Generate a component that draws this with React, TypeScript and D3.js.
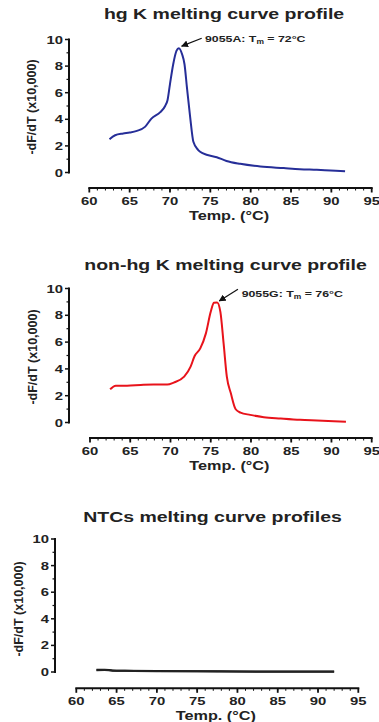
import React, { useEffect, useRef } from 'react'
import * as d3 from 'd3'

// melting curves (temp °C, -dF/dT x10,000)
const hgTemp = [62.5, 63.2, 64.2, 65.0, 65.9, 66.9, 67.7, 68.8, 69.4, 69.7, 70.0, 70.4, 70.8, 71.1, 71.5, 71.8, 72.1, 72.5, 72.9, 73.5, 74.1, 75.8, 77.0, 78.7, 81.2, 84.1, 86.1, 88.2, 89.9, 91.7]
const hgValue = [2.5, 2.8, 2.93, 3.0, 3.13, 3.43, 4.05, 4.54, 5.0, 5.45, 6.65, 8.14, 9.14, 9.35, 8.89, 8.14, 6.4, 4.17, 2.31, 1.69, 1.44, 1.15, 0.87, 0.65, 0.45, 0.33, 0.25, 0.2, 0.15, 0.1]

const nonHgTemp = [62.5, 63.2, 64.6, 66.3, 67.9, 69.6, 70.4, 71.7, 72.5, 73.0, 73.7, 74.4, 75.0, 75.4, 75.8, 76.2, 76.6, 77.0, 77.5, 78.1, 78.7, 79.9, 81.6, 83.7, 86.1, 88.2, 90.3, 91.8]
const nonHgValue = [2.48, 2.75, 2.75, 2.8, 2.83, 2.83, 2.98, 3.42, 4.17, 4.96, 5.53, 6.65, 8.26, 8.93, 8.96, 8.26, 5.9, 3.42, 2.18, 0.99, 0.74, 0.57, 0.4, 0.3, 0.2, 0.15, 0.1, 0.05]

const ntcTemp = [62.5, 63.5, 64.5, 66.0, 70.0, 75.0, 80.0, 85.0, 90.0, 92.0]
const ntcValueA = [0.17, 0.17, 0.12, 0.1, 0.08, 0.06, 0.04, 0.03, 0.03, 0.03]
const ntcValueB = [0.14, 0.15, 0.1, 0.09, 0.06, 0.05, 0.03, 0.02, 0.02, 0.02]

const xTicks = [60, 65, 70, 75, 80, 85, 90, 95]
const yTicks = [0, 2, 4, 6, 8, 10]
const titles = ['hg K melting curve profile', 'non-hg K melting curve profile', 'NTCs melting curve profiles']
const yTitle = '-dF/dT (x10,000)'
const xTitle = 'Temp. (°C)'

// annotations: label, value, arrow tail/tip and text anchor in data units
const notes = [
  { label: '9055A', tm: '72', tail: [73.93, 10.09], tip: [71.45, 9.5], text: [74.34, 10.1] },
  { label: '9055G', tm: '76', tail: [78.38, 9.94], tip: [76.06, 9.07], text: [78.84, 9.66] },
]

const FONT = '"Liberation Sans", Arial, Helvetica, sans-serif'
const SX = 1.3

const panels = [
  {
    title: titles[0], temps: hgTemp, series: [hgValue], colors: ['#262e98'], note: notes[0],
    l: 69, x0: 89.3, x1: 371.7, top: 39.5, bottom: 172.5, axisY: 188,
    titleX: 224, titleY: 19, yTitleX: 36, yTitleY: 107, xTitleY: 220
  },
  {
    title: titles[1], temps: nonHgTemp, series: [nonHgValue], colors: ['#e8131b'], note: notes[1],
    l: 69, x0: 90, x1: 371.7, top: 288.5, bottom: 422.5, axisY: 438,
    titleX: 225.5, titleY: 269.5, yTitleX: 36.5, yTitleY: 357, xTitleY: 469.5
  },
  {
    title: titles[2], temps: ntcTemp, series: [ntcValueA, ntcValueB], colors: ['#111', '#222'], note: null,
    l: 55, x0: 76.3, x1: 358.3, top: 539, bottom: 672, axisY: 688.3,
    titleX: 212.5, titleY: 521.5, yTitleX: 22.5, yTitleY: 609, xTitleY: 719.5
  },
]

export default function App() {
  const ref = useRef<SVGSVGElement | null>(null)

  useEffect(() => {
    const svg = d3.select(ref.current)
    svg.selectAll('*').remove()

    svg.append('defs').append('marker')
      .attr('id', 'arrowhead')
      .attr('viewBox', '0 0 10 10')
      .attr('refX', 9).attr('refY', 5)
      .attr('markerWidth', 7).attr('markerHeight', 7)
      .attr('markerUnits', 'userSpaceOnUse')
      .attr('orient', 'auto')
      .append('path').attr('d', 'M0,0 L10,5 L0,10 z').attr('fill', '#111')

    panels.forEach((p) => {
      const g = svg.append('g')
      const x = d3.scaleLinear().domain([60, 95]).range([p.x0, p.x1])
      const y = d3.scaleLinear().domain([0, 10]).range([p.bottom, p.top])

      // title
      g.append('text')
        .attr('transform', `translate(${p.titleX},${p.titleY}) scale(${SX},1)`)
        .attr('text-anchor', 'middle')
        .attr('font-family', FONT).attr('font-weight', 'bold').attr('font-size', 15)
        .attr('fill', '#222')
        .text(p.title)

      // y axis
      g.append('line')
        .attr('x1', p.l).attr('x2', p.l)
        .attr('y1', y(10) - 1).attr('y2', y(0) + 1)
        .attr('stroke', '#111').attr('stroke-width', 2)
      g.selectAll('.ymajor').data(yTicks).join('line')
        .attr('x1', p.l - 4).attr('x2', p.l)
        .attr('y1', (d) => y(d)).attr('y2', (d) => y(d))
        .attr('stroke', '#111').attr('stroke-width', 1.5)
      g.selectAll('.yminor').data(d3.range(1, 10, 2)).join('line')
        .attr('x1', p.l - 2.5).attr('x2', p.l)
        .attr('y1', (d) => y(d)).attr('y2', (d) => y(d))
        .attr('stroke', '#111').attr('stroke-width', 1.2)
      g.selectAll('.ylab').data(yTicks).join('text')
        .attr('transform', (d) => `translate(${p.l - 6},${y(d) + 4}) scale(${SX + 0.05},1)`)
        .attr('text-anchor', 'end')
        .attr('font-family', FONT).attr('font-weight', 'bold').attr('font-size', 11)
        .attr('fill', '#222')
        .text((d) => d)

      g.append('text')
        .attr('transform', `translate(${p.yTitleX},${p.yTitleY}) rotate(-90)`)
        .attr('text-anchor', 'middle')
        .attr('font-family', FONT).attr('font-weight', 'bold').attr('font-size', 12.5)
        .attr('fill', '#222')
        .text(yTitle)

      // x axis
      g.append('line')
        .attr('x1', x(60) - 1).attr('x2', x(95) + 1)
        .attr('y1', p.axisY).attr('y2', p.axisY)
        .attr('stroke', '#111').attr('stroke-width', 2)
      g.selectAll('.xminor').data(d3.range(61, 95, 1)).join('line')
        .attr('x1', (d) => x(d)).attr('x2', (d) => x(d))
        .attr('y1', p.axisY).attr('y2', p.axisY + 2.5)
        .attr('stroke', '#111').attr('stroke-width', 1)
      g.selectAll('.xmajor').data(xTicks).join('line')
        .attr('x1', (d) => x(d)).attr('x2', (d) => x(d))
        .attr('y1', p.axisY).attr('y2', p.axisY + 4.5)
        .attr('stroke', '#111').attr('stroke-width', 1.8)
      g.selectAll('.xlab').data(xTicks).join('text')
        .attr('transform', (d) => `translate(${x(d)},${p.axisY + 17}) scale(${SX + 0.05},1)`)
        .attr('text-anchor', 'middle')
        .attr('font-family', FONT).attr('font-weight', 'bold').attr('font-size', 11)
        .attr('fill', '#222')
        .text((d) => d)
      g.append('text')
        .attr('transform', `translate(${(x(60) + x(95)) / 2 - 1.5},${p.xTitleY}) scale(${SX},1)`)
        .attr('text-anchor', 'middle')
        .attr('font-family', FONT).attr('font-weight', 'bold').attr('font-size', 12.5)
        .attr('fill', '#222')
        .text(xTitle)

      // curves
      const line = d3.line<number>()
        .x((_, i) => x(p.temps[i]))
        .y((d) => y(d))
        .curve(d3.curveMonotoneX)
      p.series.forEach((vals, k) => {
        g.append('path')
          .attr('d', line(vals))
          .attr('fill', 'none')
          .attr('stroke', p.colors[k])
          .attr('stroke-width', 2)
          .attr('stroke-linejoin', 'round')
      })

      // annotation
      if (p.note) {
        const n = p.note
        g.append('line')
          .attr('x1', x(n.tail[0])).attr('y1', y(n.tail[1]))
          .attr('x2', x(n.tip[0])).attr('y2', y(n.tip[1]))
          .attr('stroke', '#111').attr('stroke-width', 1.2)
          .attr('marker-end', 'url(#arrowhead)')
        const t = g.append('text')
          .attr('transform', `translate(${x(n.text[0])},${y(n.text[1]) + 3.5}) scale(${SX},1)`)
          .attr('font-family', FONT).attr('font-weight', 'bold').attr('font-size', 9.5)
          .attr('fill', '#222')
        t.append('tspan').text(`${n.label}: T`)
        t.append('tspan').attr('font-size', 6.5).attr('dy', 2).text('m')
        t.append('tspan').attr('dy', -2).text(` = ${n.tm}°C`)
      }
    })
  }, [])

  return (
    <svg ref={ref} width={379} height={722}
      style={{ position: 'absolute', left: 0, top: 0, background: '#fff' }} />
  )
}
